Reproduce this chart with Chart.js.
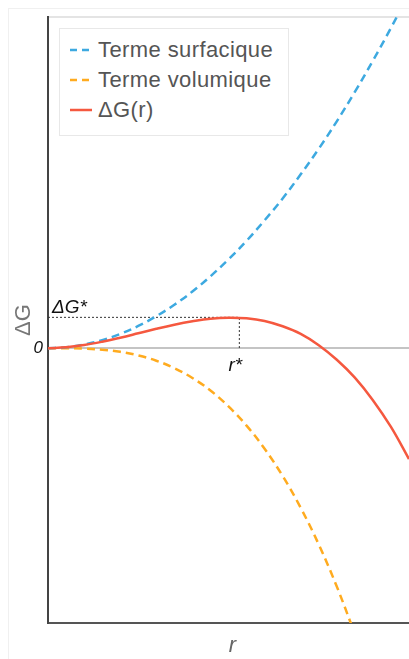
<!DOCTYPE html>
<html>
<head>
<meta charset="utf-8">
<script src="https://cdn.jsdelivr.net/npm/chart.js@4.4.1/dist/chart.umd.min.js"></script>
<style>
  html, body { margin: 0; padding: 0; background: #fff; }
  #wrap { position: relative; width: 409px; height: 659px; overflow: hidden; }
  #legend {
    position: absolute; left: 59px; top: 28px; width: 230px; height: 108px;
    border: 1px solid #e8e8e8; background: #fff; box-sizing: border-box;
    font-family: "Liberation Sans", Arial, sans-serif; font-size: 22px; color: #555;
    letter-spacing: 0.4px; padding-top: 6px;
  }
  .row { display: flex; align-items: center; height: 30px; }
  .row svg { margin-left: 10px; margin-right: 6px; }
</style>
</head>
<body>
<div id="wrap">
  <canvas id="chart" width="409" height="659"></canvas>
  <div id="legend"></div>
</div>
<script>
// rayon (unités arbitraires) et termes d'énergie
const rValues = [0, 0.5, 1, 1.5, 2, 2.5, 3, 3.5, 4, 4.5, 5, 5.5, 6, 6.5, 7, 7.5, 8, 8.5, 9, 9.5, 10];
const surfaceTerm = [0, 0.27, 1.07, 2.41, 4.28, 6.69, 9.64, 13.1, 17.1, 21.7, 26.8, 32.4, 38.6, 45.2, 52.5, 60.2, 68.5, 77.4, 86.8, 96.7, 107];
const volumeTerm = [0, -0.02, -0.14, -0.47, -1.12, -2.2, -3.8, -6.03, -9.0, -12.8, -17.6, -23.4, -30.4, -38.6, -48.2, -59.3, -72.0, -86.3];
const deltaG = [0, 0.25, 0.93, 1.94, 3.16, 4.49, 5.84, 7.07, 8.1, 8.9, 9.2, 9.0, 8.2, 6.6, 4.3, 0.9, -3.5, -8.9, -15.7, -23.8, -33.5];
const rStar = 5.3;
const deltaGStar = 9.3;
const xMax = 10;
const yMin = -83;
const yMax = 100;

const legendLabels = ['Terme surfacique', 'Terme volumique', '\u0394G(r)'];

const blue = '#3da9e0';
const orange = '#ffab1f';
const red = '#f5583f';

function toPoints(values) {
    return values.map((v, i) => ({ x: rValues[i], y: v }));
}

const textPlugin = {
    id: 'labels',
    beforeDraw(chart) {
        const c = chart.ctx;
        const area = chart.chartArea;
        c.save();
        c.strokeStyle = '#f0f0f0';
        c.lineWidth = 1;
        c.strokeRect(8.5, 8.5, 420, 680);
        c.strokeStyle = '#e4e4e4';
        c.lineWidth = 2;
        c.beginPath();
        c.moveTo(area.left, area.top);
        c.lineTo(area.right, area.top);
        c.stroke();
        c.restore();
    },
    afterDraw(chart) {
        const c = chart.ctx;
        const area = chart.chartArea;
        const xs = chart.scales.x;
        const ys = chart.scales.y;
        const y0 = ys.getPixelForValue(0);
        c.save();
        c.fillStyle = '#111';
        c.font = 'italic 17px "Liberation Sans", Arial, sans-serif';
        c.textAlign = 'right';
        c.textBaseline = 'middle';
        c.fillText('0', area.left - 5, y0);

        c.font = 'italic 19px "Liberation Sans", Arial, sans-serif';
        c.textAlign = 'left';
        c.textBaseline = 'alphabetic';
        c.fillText('\u0394G*', area.left + 4, ys.getPixelForValue(deltaGStar) - 4);

        c.textAlign = 'center';
        c.textBaseline = 'top';
        c.fillText('r*', xs.getPixelForValue(rStar) - 4, y0 + 8);

        c.fillStyle = '#666';
        c.font = 'italic 22px "Liberation Sans", Arial, sans-serif';
        c.fillText('r', (area.left + area.right) / 2 + 4, area.bottom + 12);

        c.fillStyle = '#777';
        c.font = '22px "Liberation Sans", Arial, sans-serif';
        c.translate(24, 320);
        c.rotate(-Math.PI / 2);
        c.textBaseline = 'middle';
        c.fillText('\u0394G', 0, 0);
        c.restore();
    }
};

const chart = new Chart(document.getElementById('chart'), {
    type: 'line',
    data: {
        datasets: [
            {
                label: legendLabels[2],
                data: toPoints(deltaG),
                borderColor: red,
                borderWidth: 2.5,
                tension: 0.4
            },
            {
                label: legendLabels[0],
                data: toPoints(surfaceTerm),
                borderColor: blue,
                borderWidth: 2.5,
                borderDash: [8, 5],
                tension: 0.4
            },
            {
                label: legendLabels[1],
                data: toPoints(volumeTerm),
                borderColor: orange,
                borderWidth: 2.5,
                borderDash: [8, 5],
                tension: 0.4
            },
            {
                label: 'ref',
                data: [{ x: 0, y: deltaGStar }, { x: rStar, y: deltaGStar }, { x: rStar, y: 0 }],
                borderColor: '#333',
                borderWidth: 1,
                borderDash: [2, 2],
                tension: 0
            }
        ]
    },
    options: {
        responsive: false,
        animation: false,
        layout: { padding: { left: 48, top: 17, right: 0, bottom: 36 } },
        elements: { point: { radius: 0 } },
        plugins: { legend: { display: false }, tooltip: { enabled: false } },
        scales: {
            x: {
                type: 'linear',
                min: 0,
                max: xMax,
                ticks: { display: false },
                grid: { display: false, drawTicks: false },
                border: { color: '#555', width: 2 }
            },
            y: {
                min: yMin,
                max: yMax,
                afterBuildTicks: (scale) => { scale.ticks = [{ value: 0 }]; },
                ticks: { display: false },
                grid: { color: '#c4c4c4', lineWidth: 2, drawTicks: false },
                border: { color: '#444', width: 2 }
            }
        }
    },
    plugins: [textPlugin]
});

// légende HTML
const legend = document.getElementById('legend');
legendLabels.forEach(label => {
    const ds = chart.data.datasets.find(d => d.label === label);
    const row = document.createElement('div');
    row.className = 'row';
    const dash = ds.borderDash ? 'stroke-dasharray="7 5"' : '';
    row.innerHTML = '<svg width="22" height="6"><line x1="0" y1="3" x2="22" y2="3" stroke="' +
        ds.borderColor + '" stroke-width="2.5" ' + dash + '/></svg><span>' + label + '</span>';
    legend.appendChild(row);
});
</script>
</body>
</html>
